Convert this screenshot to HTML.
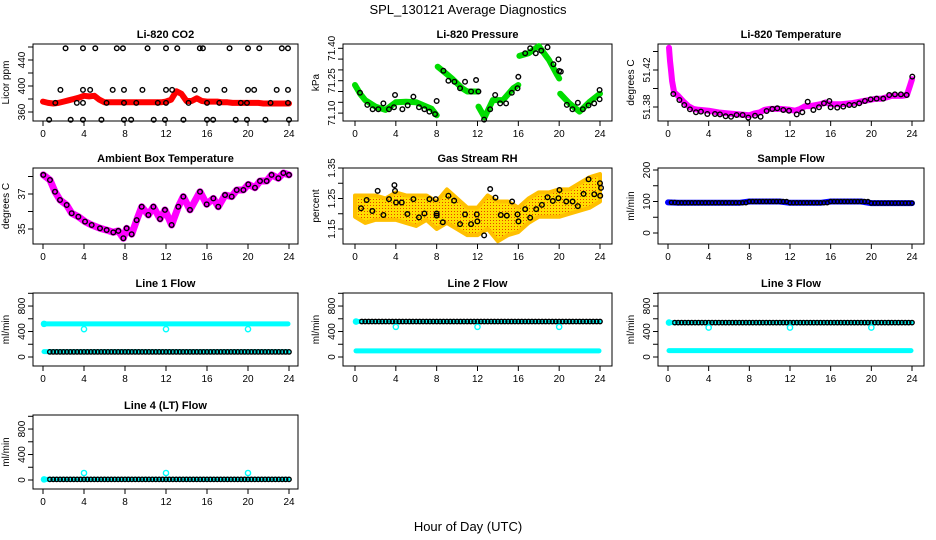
<!DOCTYPE html>
<html><head><meta charset="utf-8"><style>
html,body{margin:0;padding:0;background:#fff}
svg{display:block;font-family:"Liberation Sans",sans-serif}
</style></head><body>
<svg id="c" width="936" height="540" viewBox="0 0 936 540">
<defs>
<pattern id="rh" width="3" height="3" patternUnits="userSpaceOnUse"><rect width="3" height="3" fill="#ffdd00"/><rect x="1" y="1" width="1" height="1" fill="#e84000"/></pattern>
</defs>
<text x="468" y="14" text-anchor="middle" font-size="13">SPL_130121  Average Diagnostics</text>
<text x="468" y="531" text-anchor="middle" font-size="13">Hour of Day (UTC)</text>
</svg>
<script>
// ---- data ----
const xTicks=[0,4,8,12,16,20,24];
const co2Line=[376,374,373,374,376,378,380,382,385,384,385,379,375,375,375,375,375,375,375,375,375,375,375,375,376,379,392,388,377,377,381,377,376,376,376,375,375,374,374,374,374,374,374,373,373,373,373,373,373];
const co2PtsT=[2.2,3.9,5.1,7.2,7.8,10.2,12.0,13.1,15.3,15.6,18.2,20.0,21.1,23.3,23.9,0.6,2.7,3.9,5.7,7.9,8.6,10.8,11.9,13.7,16.0,16.6,18.8,19.9,21.7,24.0,1.7,3.9,4.6,6.8,7.9,9.7,12.0,12.6,14.8,16.0,17.7,20.0,20.6,22.8,23.9,1.2,3.3,3.9,6.2,7.9,9.1,11.2,12.0,14.2,16.0,17.2,19.3,19.9,22.2,23.9];
const co2PtsV=[458,458,458,458,458,458,458,458,458,458,458,458,458,458,458,348,348,348,348,348,348,348,348,348,348,348,348,348,348,348,394,394,394,394,394,394,394,394,394,394,394,394,394,394,394,374,374,374,374,374,374,374,374,374,374,374,374,374,374,374];
const presT=[0,0.5,1,1.5,2,3,4,5,6,7,7.5,8,8.05,8.1,9,9.5,10.5,11,12,12.05,12.1,12.7,13.5,14.5,15.5,16,16.05,16.1,17,18,19,19.8,20,20.05,20.1,21,22,23,24];
const presV=[71.23,71.19,71.16,71.145,71.13,71.115,71.15,71.153,71.15,71.13,71.12,71.09,null,71.315,71.28,71.26,71.215,71.20,71.20,null,71.13,71.08,71.16,71.16,71.215,71.23,null,71.365,71.377,71.41,71.346,71.277,71.26,null,71.19,71.145,71.107,71.153,71.19];
const presPtsT=[0.49,1.21,1.73,2.29,2.78,3.33,3.82,3.92,4.64,5.16,5.72,6.27,6.8,7.29,7.84,8.0,8.66,9.15,9.74,10.29,10.78,11.37,11.86,12.09,12.65,13.24,13.73,14.22,14.8,15.36,15.92,16.0,16.67,17.16,17.71,18.24,18.86,19.44,19.93,20.0,20.16,20.75,21.3,21.83,22.32,22.88,23.43,23.96,23.96];
const presPtsV=[71.194,71.138,71.118,71.118,71.145,71.118,71.127,71.184,71.118,71.136,71.176,71.127,71.118,71.107,71.095,71.156,71.296,71.25,71.245,71.215,71.245,71.20,71.253,71.20,71.07,71.118,71.184,71.145,71.145,71.194,71.215,71.268,71.377,71.40,71.377,71.389,71.405,71.326,71.349,71.295,71.292,71.138,71.118,71.148,71.118,71.136,71.145,71.164,71.207];
const tempT=[0.1,0.2,0.3,0.4,0.6,1,1.5,2,2.5,3,4,5,6,7,8,8.5,9,9.5,10,11,12,12.5,13,13.5,14,15,15.5,16,17,18,19,20,20.5,21,22,23,23.5,23.8,24];
const tempV=[51.444,51.43,51.42,51.408,51.396,51.392,51.386,51.381,51.378,51.377,51.376,51.374,51.373,51.372,51.371,51.373,51.374,51.377,51.378,51.378,51.377,51.376,51.378,51.381,51.381,51.383,51.385,51.383,51.383,51.384,51.386,51.388,51.389,51.389,51.392,51.392,51.393,51.403,51.41];
const tempPtsT=[0.52,1.12,1.6,2.16,2.75,3.24,3.87,4.62,5.11,5.67,6.2,6.75,7.34,7.9,8.56,9.11,9.7,10.26,10.75,11.34,11.9,12.66,13.21,13.74,14.3,14.85,15.34,15.87,16.0,16.65,17.24,17.83,18.32,18.81,19.37,19.93,20.52,21.17,21.76,22.32,22.91,23.47,24.03];
const tempPtsV=[51.394,51.3876,51.3822,51.3775,51.3743,51.375,51.3724,51.3724,51.372,51.370,51.3695,51.3714,51.3714,51.3685,51.3706,51.3695,51.3757,51.3778,51.3786,51.3768,51.376,51.372,51.3743,51.3857,51.3768,51.3797,51.384,51.3865,51.3797,51.3793,51.3804,51.3822,51.3822,51.384,51.3865,51.3883,51.389,51.389,51.393,51.3937,51.3937,51.393,51.4128];
const ambT=[0.03,0.68,1.17,1.66,2.31,2.8,3.45,4.1,4.75,5.56,6.21,6.86,7.35,7.84,8.16,8.65,9.14,9.63,10.28,10.77,11.42,11.9,12.55,13.2,13.69,14.34,15.32,15.97,16.62,17.1,17.76,18.41,18.9,19.55,20.03,20.68,21.17,21.82,22.3,22.96,23.45,24.0];
const ambV=[38.09,37.8,37.13,36.66,36.37,35.9,35.7,35.42,35.23,35.04,34.94,34.81,34.89,34.47,35.04,34.7,35.51,36.27,35.8,36.27,35.57,36.09,35.23,36.27,36.85,36.09,37.13,36.41,36.75,36.27,36.94,36.85,37.23,37.23,37.55,37.36,37.74,37.74,38.09,37.9,38.2,38.09];
const rhHours=[0,1,2,3,4,5,6,7,8,9,10,11,12,13,14,15,16,17,18,19,20,21,22,23,24];
const rhUpper=[1.26,1.26,1.26,1.25,1.27,1.26,1.26,1.26,1.24,1.28,1.25,1.22,1.22,1.26,1.24,1.24,1.22,1.25,1.27,1.27,1.28,1.28,1.30,1.32,1.33];
const rhLower=[1.19,1.17,1.18,1.18,1.18,1.17,1.16,1.18,1.15,1.17,1.15,1.13,1.13,1.15,1.11,1.13,1.14,1.17,1.19,1.19,1.19,1.20,1.21,1.22,1.24];
const rhPtsT=[0.59,1.14,1.7,2.22,2.78,3.33,3.86,3.92,4.02,4.58,5.13,5.72,6.27,6.8,7.29,7.91,8.0,8.0,8.6,9.15,9.71,10.29,10.78,11.37,11.93,11.99,12.65,13.24,13.76,14.28,14.87,15.39,15.92,16.01,16.67,17.16,17.75,18.31,18.86,19.38,19.93,20.03,20.69,21.31,21.83,22.39,22.88,23.44,24.02,24.0,24.1];
const rhPtsV=[1.218,1.245,1.209,1.275,1.196,1.248,1.294,1.275,1.237,1.237,1.199,1.248,1.188,1.201,1.248,1.248,1.201,1.194,1.172,1.259,1.243,1.166,1.198,1.166,1.198,1.175,1.129,1.281,1.253,1.196,1.194,1.24,1.198,1.175,1.215,1.187,1.215,1.229,1.254,1.242,1.251,1.278,1.24,1.24,1.225,1.265,1.313,1.264,1.259,1.30,1.285];
const sampleHours=[0,1,2,3,4,5,6,7,8,9,10,11,12,13,14,15,16,17,18,19,20,21,22,23,24];
const sampleV=[97,96,96,96,96,96,96,96,100,100,100,100,96,96,96,96,100,100,100,100,95,95,95,95,95];
const flowTitles=["Line 1 Flow","Line 2 Flow","Line 3 Flow","Line 4 (LT) Flow"];
const flowBlack=[80,557,540,10];
const flowCyanHigh=[520,557,540,10];
const flowCyanDip=[437,473,462,110];
const flowCyanLow=[84,95,100,null];
const dipHours=[4,12,20];

// ---- geometry ----
const cols=[{l:33,r:298,x0:43,x24:289},{l:343,r:612,x0:355,x24:600},{l:658,r:924,x0:668,x24:912}];
const rows=[{t:44,b:121},{t:168,b:244},{t:293,b:366},{t:415,b:489}];
const svg=document.getElementById('c');
const NS='http://www.w3.org/2000/svg';
function mk(tag,attrs,parent){const e=document.createElementNS(NS,tag);for(const k in attrs)e.setAttribute(k,attrs[k]);(parent||svg).appendChild(e);return e;}

function panel(name,title,ci,ri,ylab,yfun,yticks,ylabels){
  const c=cols[ci],r=rows[ri];
  const g=mk('g',{});
  
  
  const xs=h=>c.x0+(c.x24-c.x0)*h/24;
  const bx=mk('rect',{x:c.l,y:r.t,width:c.r-c.l,height:r.b-r.t,fill:'none',stroke:'#000','stroke-width':1},g);
  
  
  const tt=mk('text',{x:(c.l+c.r)/2,y:r.t-6,'text-anchor':'middle','font-size':11,'font-weight':'bold'},g);
  tt.textContent=title;
  
  
  xTicks.forEach(v=>{
    const x=xs(v);
    mk('line',{x1:x,x2:x,y1:r.b,y2:r.b+5,stroke:'#000'},g);
    const t=mk('text',{x:x,y:r.b+16,'text-anchor':'middle','font-size':10},g);
    t.textContent=v;
    
    
  });
  yticks.forEach(v=>{
    const y=yfun(v);
    mk('line',{x1:c.l-5,x2:c.l,y1:y,y2:y,stroke:'#000'},g);
  });
  ylabels.forEach(p=>{
    const y=yfun(p[0]);
    const t=mk('text',{x:0,y:0,'text-anchor':'middle','font-size':10,transform:`translate(${c.l-8},${y}) rotate(-90)`},g);
    t.textContent=p[1];
    
    
  });
  const yl=mk('text',{x:0,y:0,'text-anchor':'middle','font-size':10,transform:`translate(${c.l-24},${(r.t+r.b)/2}) rotate(-90)`},g);
  yl.textContent=ylab;
  
  
  return {g,xs,yfun};
}
function band(p,T,V,color,w,name){
  let d='',pen=false;
  for(let i=0;i<T.length;i++){
    if(V[i]===null){pen=false;continue;}
    d+=(pen?'L':'M')+p.xs(T[i]).toFixed(1)+' '+p.yfun(V[i]).toFixed(1)+' ';pen=true;
  }
  const e=mk('path',{d:d,fill:'none',stroke:color,'stroke-width':w,'stroke-linejoin':'round','stroke-linecap':'round'},p.g);
  
  
}
function pts(p,T,V,color,name,r){
  for(let i=0;i<T.length;i++){
    if(V[i]===null)continue;
    const e=mk('circle',{cx:p.xs(T[i]),cy:p.yfun(V[i]),r:r||2.3,fill:'none',stroke:color,'stroke-width':1.4},p.g);
    
    
  }
}

{const p=panel('co2','Li-820 CO2',0,0,'Licor ppm',v=>112-(v-360)*52/80,[360,380,400,420,440,460],[[360,'360'],[400,'400'],[440,'440']]);
 const H=co2Line.map((_,i)=>i*0.5);
 band(p,H,co2Line,'#ff0000',6,'co2-line');
 pts(p,co2PtsT,co2PtsV,'#000','co2-point');}
{const p=panel('pressure','Li-820 Pressure',1,0,'kPa',v=>48.3+(71.40-v)/0.05*10.8,[71.40,71.35,71.30,71.25,71.20,71.15,71.10],[[71.40,'71.40'],[71.25,'71.25'],[71.10,'71.10']]);
 band(p,presT,presV,'#00dd00',6,'pressure-line');
 pts(p,presPtsT,presPtsV,'#000','pressure-point');}
{const p=panel('li820-temp','Li-820 Temperature',2,0,'degrees C',v=>70+(51.42-v)*925,[51.44,51.42,51.40,51.38],[[51.42,'51.42'],[51.38,'51.38']]);
 band(p,tempT,tempV,'#ff00ff',6,'temperature-line');
 pts(p,tempPtsT,tempPtsV,'#000','temperature-point');}
{const p=panel('ambient','Ambient Box Temperature',0,1,'degrees C',v=>194-(v-37)*17.5,[35,36,37,38],[[35,'35'],[37,'37']]);
 band(p,ambT,ambV,'#ff00ff',7,'ambient-line');
 pts(p,ambT,ambV,'#000','ambient-point');}
{const p=panel('gas-rh','Gas Stream RH',1,1,'percent',v=>168+(1.35-v)*305,[1.15,1.20,1.25,1.30,1.35],[[1.15,'1.15'],[1.25,'1.25'],[1.35,'1.35']]);
 let d='';
 rhHours.forEach((h,i)=>{d+=(i?'L':'M')+p.xs(h)+' '+p.yfun(rhUpper[i])+' ';});
 for(let i=rhHours.length-1;i>=0;i--)d+='L'+p.xs(rhHours[i])+' '+p.yfun(rhLower[i])+' ';
 const e=mk('path',{d:d+'Z',fill:'url(#rh)',stroke:'#ffc000','stroke-width':4,'stroke-linejoin':'round'},p.g);
 
 
 pts(p,rhPtsT,rhPtsV,'#000','rh-point');}
{const p=panel('sample-flow','Sample Flow',2,1,'ml/min',v=>233-v*63/200,[0,50,100,150,200],[[0,'0'],[100,'100'],[200,'200']]);
 band(p,sampleHours,sampleV,'#0000ff',6,'sample-flow-line');
 const T=[],V=[];
 for(let k=1;k<=72;k++){T.push(k/3);V.push(sampleV[Math.floor(k/3)]);}
 pts(p,T,V,'#000','sample-flow-point',2);}
const flowPos=[[0,2],[1,2],[2,2],[0,3]];
flowTitles.forEach((title,fi)=>{
  const ci=flowPos[fi][0],ri=flowPos[fi][1];
  const zero=ri===2?357:480;
  const p=panel('line'+(fi+1)+'-flow',title,ci,ri,'ml/min',v=>zero-v*0.0637,[0,200,400,600,800,1000],[[0,'0'],[400,'400'],[800,'800']]);
  if(flowCyanLow[fi]!==null)band(p,[0.1,23.9],[flowCyanLow[fi],flowCyanLow[fi]],'#00ffff',5,'cyan-low-line');
  band(p,[0.1,23.9],[flowCyanHigh[fi],flowCyanHigh[fi]],'#00ffff',5,'cyan-high-line');
  const T=[],V=[];
  for(let k=2;k<=72;k++){T.push(k/3);V.push(flowBlack[fi]);}
  pts(p,T,V,'#000','flow-point',2.2);
  pts(p,dipHours,dipHours.map(()=>flowCyanDip[fi]),'#00ffff','cyan-dip-point',2.6);
  pts(p,[0.1],[flowCyanHigh[fi]],'#00ffff','cyan-start-point',2.6);
});
</script>
</body></html>
